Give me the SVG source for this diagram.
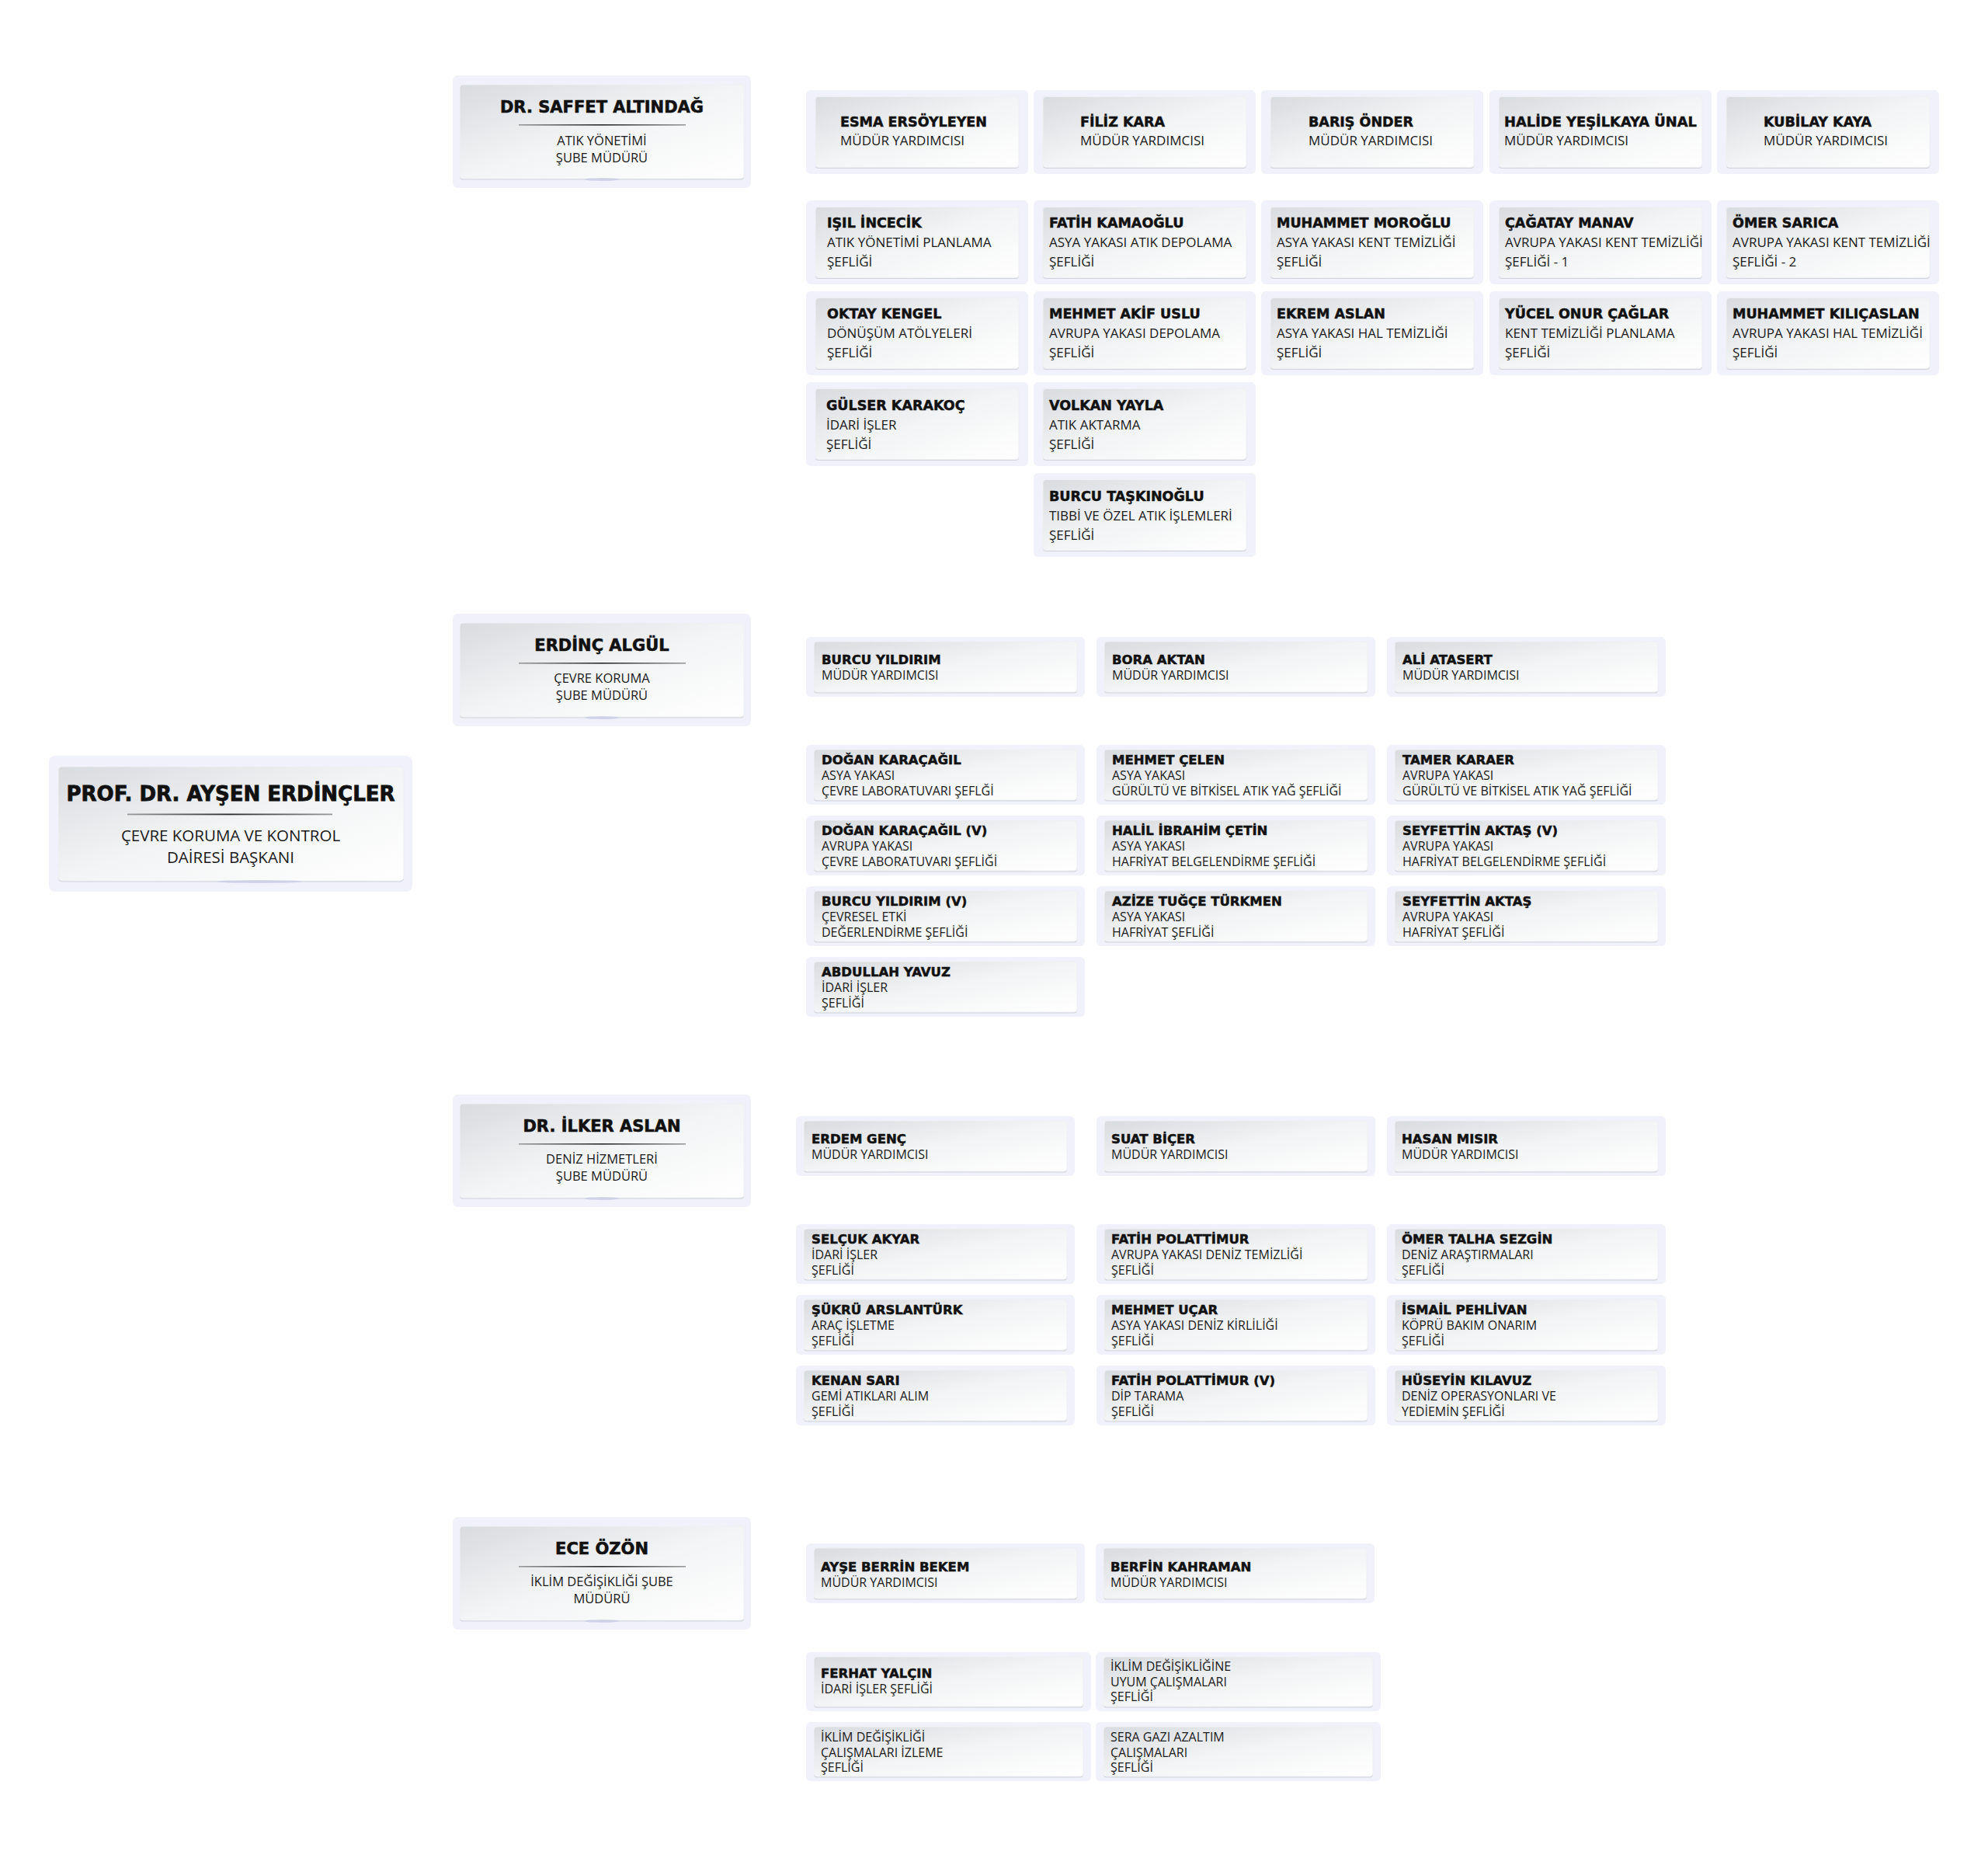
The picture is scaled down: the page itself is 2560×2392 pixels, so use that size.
<svg xmlns="http://www.w3.org/2000/svg" width="2560" height="2392" viewBox="0 0 2560 2392">
<defs>
<style>
.ob{fill:#f0f1fa}
.sh{fill:#d2d5dc}
.ic{fill:url(#g);stroke:#eef0f3;stroke-width:1}
.nR{font-family:"DejaVu Sans","Liberation Sans",sans-serif;font-weight:bold;font-size:26px;fill:#111;stroke:#111;stroke-width:0.8;text-anchor:middle}
.sR{font-family:"Open Sans","Liberation Sans",sans-serif;font-size:20.5px;fill:#1a1a1a;text-anchor:middle}
.nH{font-family:"DejaVu Sans","Liberation Sans",sans-serif;font-weight:bold;font-size:21px;fill:#111;stroke:#111;stroke-width:0.6;text-anchor:middle}
.sH{font-family:"Open Sans","Liberation Sans",sans-serif;font-size:16.5px;fill:#1a1a1a;text-anchor:middle}
.nA{font-family:"DejaVu Sans","Liberation Sans",sans-serif;font-weight:bold;font-size:17.5px;fill:#111;stroke:#111;stroke-width:0.5}
.sA{font-family:"Open Sans","Liberation Sans",sans-serif;font-size:17px;fill:#1a1a1a}
.nB{font-family:"DejaVu Sans","Liberation Sans",sans-serif;font-weight:bold;font-size:16.5px;fill:#111;stroke:#111;stroke-width:0.5}
.sB{font-family:"Open Sans","Liberation Sans",sans-serif;font-size:16px;fill:#1a1a1a}
.mk{stroke:#ffffff;stroke-width:2}
.gl{fill:#c8cbe6;opacity:.7}
</style>
<linearGradient id="g" x1="0" y1="0" x2="1" y2="1">
<stop offset="0" stop-color="#d8dbdf"/>
<stop offset="0.5" stop-color="#f3f4f5"/>
<stop offset="1" stop-color="#ffffff"/>
</linearGradient>
<linearGradient id="dv" x1="0" y1="0" x2="1" y2="0">
<stop offset="0" stop-color="#9a9a9a"/>
<stop offset="0.5" stop-color="#2a2a2a"/>
<stop offset="1" stop-color="#9a9a9a"/>
</linearGradient>
<g id="bgA"><rect class="ob" width="286" height="108" rx="6"/><rect class="sh" x="12" y="10" width="262" height="91" rx="4"/><rect class="ic" x="12" y="8.5" width="262" height="91" rx="4"/></g>
<g id="bgB"><rect class="ob" width="359" height="77" rx="6"/><rect class="sh" x="10" y="7.5" width="339" height="65" rx="4"/><rect class="ic" x="10" y="6" width="339" height="65" rx="4"/></g>
<g id="bgE"><rect class="ob" width="367" height="76" rx="6"/><rect class="sh" x="10" y="7.5" width="347" height="64" rx="4"/><rect class="ic" x="10" y="6" width="347" height="64" rx="4"/></g>
<g id="bgH"><rect class="ob" width="384" height="145" rx="7"/><rect class="sh" x="9" y="13.5" width="366" height="121" rx="4"/><rect class="ic" x="9" y="12" width="366" height="121" rx="4"/><ellipse class="gl" cx="192" cy="134" rx="22" ry="2"/><rect x="85" y="63" width="215" height="1.6" fill="url(#dv)"/></g>
</defs>
<rect width="2560" height="2392" fill="#ffffff"/>

<g id="connectors">
<line class="mk" x1="284" y1="1141" x2="284" y2="1148"/>
<line class="mk" x1="394" y1="1141" x2="394" y2="1148"/>
<line class="mk" x1="1204" y1="891" x2="1204" y2="897"/>
<line class="mk" x1="1591" y1="891" x2="1591" y2="897"/>
<line class="mk" x1="1205" y1="2058" x2="1205" y2="2064"/>
<line class="mk" x1="1590" y1="2058" x2="1590" y2="2064"/>
</g>

<g id="root">
<rect class="ob" x="63" y="973" width="468" height="175" rx="8"/>
<rect class="sh" x="75" y="988.5" width="445" height="147" rx="5"/>
<rect class="ic" x="75" y="987" width="445" height="147" rx="5"/>
<ellipse class="gl" cx="334" cy="1135" rx="55" ry="2"/>
<text class="nR" x="297" y="1031">PROF. DR. AYŞEN ERDİNÇLER</text>
<rect x="164" y="1047.5" width="264" height="1.8" fill="url(#dv)"/>
<text class="sR" x="297" y="1083">ÇEVRE KORUMA VE KONTROL</text>
<text class="sR" x="297" y="1111">DAİRESİ BAŞKANI</text>
</g>

<g id="h-saffet"><use href="#bgH" x="583" y="97"/><text class="nH" x="775" y="145">DR. SAFFET ALTINDAĞ</text><text class="sH" x="775" y="187">ATIK YÖNETİMİ</text><text class="sH" x="775" y="209">ŞUBE MÜDÜRÜ</text></g>
<g id="h-erdinc"><use href="#bgH" x="583" y="790"/><text class="nH" x="775" y="838">ERDİNÇ ALGÜL</text><text class="sH" x="775" y="879">ÇEVRE KORUMA</text><text class="sH" x="775" y="901">ŞUBE MÜDÜRÜ</text></g>
<g id="h-ilker"><use href="#bgH" x="583" y="1409"/><text class="nH" x="775" y="1457">DR. İLKER ASLAN</text><text class="sH" x="775" y="1498">DENİZ HİZMETLERİ</text><text class="sH" x="775" y="1520">ŞUBE MÜDÜRÜ</text></g>
<g id="h-ece"><use href="#bgH" x="583" y="1953"/><text class="nH" x="775" y="2001">ECE ÖZÖN</text><text class="sH" x="775" y="2042">İKLİM DEĞİŞİKLİĞİ ŞUBE</text><text class="sH" x="775" y="2064">MÜDÜRÜ</text></g>

<g id="s1-esma"><use href="#bgA" x="1038" y="116"/><text class="nA" x="1082" y="163">ESMA ERSÖYLEYEN</text><text class="sA" x="1082" y="187">MÜDÜR YARDIMCISI</text></g>
<g id="s1-filiz"><use href="#bgA" x="1331" y="116"/><text class="nA" x="1391" y="163">FİLİZ KARA</text><text class="sA" x="1391" y="187">MÜDÜR YARDIMCISI</text></g>
<g id="s1-baris"><use href="#bgA" x="1624" y="116"/><text class="nA" x="1685" y="163">BARIŞ ÖNDER</text><text class="sA" x="1685" y="187">MÜDÜR YARDIMCISI</text></g>
<g id="s1-halide"><use href="#bgA" x="1918" y="116"/><text class="nA" x="1937" y="163" textLength="248" lengthAdjust="spacingAndGlyphs">HALİDE YEŞİLKAYA ÜNAL</text><text class="sA" x="1937" y="187">MÜDÜR YARDIMCISI</text></g>
<g id="s1-kubilay"><use href="#bgA" x="2211" y="116"/><text class="nA" x="2271" y="163">KUBİLAY KAYA</text><text class="sA" x="2271" y="187">MÜDÜR YARDIMCISI</text></g>

<g id="s1-isil"><use href="#bgA" x="1038" y="258"/><text class="nA" x="1065" y="293">IŞIL İNCECİK</text><text class="sA" x="1065" y="318">ATIK YÖNETİMİ PLANLAMA</text><text class="sA" x="1065" y="343">ŞEFLİĞİ</text></g>
<g id="s1-fatih"><use href="#bgA" x="1331" y="258"/><text class="nA" x="1351" y="293">FATİH KAMAOĞLU</text><text class="sA" x="1351" y="318">ASYA YAKASI ATIK DEPOLAMA</text><text class="sA" x="1351" y="343">ŞEFLİĞİ</text></g>
<g id="s1-muhammet-m"><use href="#bgA" x="1624" y="258"/><text class="nA" x="1644" y="293">MUHAMMET MOROĞLU</text><text class="sA" x="1644" y="318">ASYA YAKASI KENT TEMİZLİĞİ</text><text class="sA" x="1644" y="343">ŞEFLİĞİ</text></g>
<g id="s1-cagatay"><use href="#bgA" x="1918" y="258"/><text class="nA" x="1938" y="293">ÇAĞATAY MANAV</text><text class="sA" x="1938" y="318">AVRUPA YAKASI KENT TEMİZLİĞİ</text><text class="sA" x="1938" y="343">ŞEFLİĞİ - 1</text></g>
<g id="s1-omer"><use href="#bgA" x="2211" y="258"/><text class="nA" x="2231" y="293">ÖMER SARICA</text><text class="sA" x="2231" y="318">AVRUPA YAKASI KENT TEMİZLİĞİ</text><text class="sA" x="2231" y="343">ŞEFLİĞİ - 2</text></g>

<g id="s1-oktay"><use href="#bgA" x="1038" y="375"/><text class="nA" x="1065" y="410">OKTAY KENGEL</text><text class="sA" x="1065" y="435">DÖNÜŞÜM ATÖLYELERİ</text><text class="sA" x="1065" y="460">ŞEFLİĞİ</text></g>
<g id="s1-mehmet-akif"><use href="#bgA" x="1331" y="375"/><text class="nA" x="1351" y="410">MEHMET AKİF USLU</text><text class="sA" x="1351" y="435">AVRUPA YAKASI DEPOLAMA</text><text class="sA" x="1351" y="460">ŞEFLİĞİ</text></g>
<g id="s1-ekrem"><use href="#bgA" x="1624" y="375"/><text class="nA" x="1644" y="410">EKREM ASLAN</text><text class="sA" x="1644" y="435">ASYA YAKASI HAL TEMİZLİĞİ</text><text class="sA" x="1644" y="460">ŞEFLİĞİ</text></g>
<g id="s1-yucel"><use href="#bgA" x="1918" y="375"/><text class="nA" x="1938" y="410">YÜCEL ONUR ÇAĞLAR</text><text class="sA" x="1938" y="435">KENT TEMİZLİĞİ PLANLAMA</text><text class="sA" x="1938" y="460">ŞEFLİĞİ</text></g>
<g id="s1-muhammet-k"><use href="#bgA" x="2211" y="375"/><text class="nA" x="2231" y="410">MUHAMMET KILIÇASLAN</text><text class="sA" x="2231" y="435">AVRUPA YAKASI HAL TEMİZLİĞİ</text><text class="sA" x="2231" y="460">ŞEFLİĞİ</text></g>

<g id="s1-gulser"><use href="#bgA" x="1038" y="492"/><text class="nA" x="1064" y="528">GÜLSER KARAKOÇ</text><text class="sA" x="1064" y="553">İDARİ İŞLER</text><text class="sA" x="1064" y="578">ŞEFLİĞİ</text></g>
<g id="s1-volkan"><use href="#bgA" x="1331" y="492"/><text class="nA" x="1351" y="528">VOLKAN YAYLA</text><text class="sA" x="1351" y="553">ATIK AKTARMA</text><text class="sA" x="1351" y="578">ŞEFLİĞİ</text></g>
<g id="s1-burcu-t"><use href="#bgA" x="1331" y="609"/><text class="nA" x="1351" y="645">BURCU TAŞKINOĞLU</text><text class="sA" x="1351" y="670">TIBBİ VE ÖZEL ATIK İŞLEMLERİ</text><text class="sA" x="1351" y="695">ŞEFLİĞİ</text></g>

<g id="s2-burcu"><use href="#bgB" x="1038" y="820"/><text class="nB" x="1058" y="855">BURCU YILDIRIM</text><text class="sB" x="1058" y="875">MÜDÜR YARDIMCISI</text></g>
<g id="s2-bora"><use href="#bgB" x="1412" y="820"/><text class="nB" x="1432" y="855">BORA AKTAN</text><text class="sB" x="1432" y="875">MÜDÜR YARDIMCISI</text></g>
<g id="s2-ali"><use href="#bgB" x="1786" y="820"/><text class="nB" x="1806" y="855">ALİ ATASERT</text><text class="sB" x="1806" y="875">MÜDÜR YARDIMCISI</text></g>

<g id="s2-dogan"><use href="#bgB" x="1038" y="959"/><text class="nB" x="1058" y="984">DOĞAN KARAÇAĞIL</text><text class="sB" x="1058" y="1004">ASYA YAKASI</text><text class="sB" x="1058" y="1024">ÇEVRE LABORATUVARI ŞEFLĞİ</text></g>
<g id="s2-mehmet-celen"><use href="#bgB" x="1412" y="959"/><text class="nB" x="1432" y="984">MEHMET ÇELEN</text><text class="sB" x="1432" y="1004">ASYA YAKASI</text><text class="sB" x="1432" y="1024">GÜRÜLTÜ VE BİTKİSEL ATIK YAĞ ŞEFLİĞİ</text></g>
<g id="s2-tamer"><use href="#bgB" x="1786" y="959"/><text class="nB" x="1806" y="984">TAMER KARAER</text><text class="sB" x="1806" y="1004">AVRUPA YAKASI</text><text class="sB" x="1806" y="1024">GÜRÜLTÜ VE BİTKİSEL ATIK YAĞ ŞEFLİĞİ</text></g>

<g id="s2-dogan-v"><use href="#bgB" x="1038" y="1050"/><text class="nB" x="1058" y="1075">DOĞAN KARAÇAĞIL (V)</text><text class="sB" x="1058" y="1095">AVRUPA YAKASI</text><text class="sB" x="1058" y="1115">ÇEVRE LABORATUVARI ŞEFLİĞİ</text></g>
<g id="s2-halil"><use href="#bgB" x="1412" y="1050"/><text class="nB" x="1432" y="1075">HALİL İBRAHİM ÇETİN</text><text class="sB" x="1432" y="1095">ASYA YAKASI</text><text class="sB" x="1432" y="1115">HAFRİYAT BELGELENDİRME ŞEFLİĞİ</text></g>
<g id="s2-seyfettin-v"><use href="#bgB" x="1786" y="1050"/><text class="nB" x="1806" y="1075">SEYFETTİN AKTAŞ (V)</text><text class="sB" x="1806" y="1095">AVRUPA YAKASI</text><text class="sB" x="1806" y="1115">HAFRİYAT BELGELENDİRME ŞEFLİĞİ</text></g>

<g id="s2-burcu-v"><use href="#bgB" x="1038" y="1141"/><text class="nB" x="1058" y="1166">BURCU YILDIRIM (V)</text><text class="sB" x="1058" y="1186">ÇEVRESEL ETKİ</text><text class="sB" x="1058" y="1206">DEĞERLENDİRME ŞEFLİĞİ</text></g>
<g id="s2-azize"><use href="#bgB" x="1412" y="1141"/><text class="nB" x="1432" y="1166">AZİZE TUĞÇE TÜRKMEN</text><text class="sB" x="1432" y="1186">ASYA YAKASI</text><text class="sB" x="1432" y="1206">HAFRİYAT ŞEFLİĞİ</text></g>
<g id="s2-seyfettin"><use href="#bgB" x="1786" y="1141"/><text class="nB" x="1806" y="1166">SEYFETTİN AKTAŞ</text><text class="sB" x="1806" y="1186">AVRUPA YAKASI</text><text class="sB" x="1806" y="1206">HAFRİYAT ŞEFLİĞİ</text></g>

<g id="s2-abdullah"><use href="#bgB" x="1038" y="1232"/><text class="nB" x="1058" y="1257">ABDULLAH YAVUZ</text><text class="sB" x="1058" y="1277">İDARİ İŞLER</text><text class="sB" x="1058" y="1297">ŞEFLİĞİ</text></g>

<g id="s3-erdem"><use href="#bgB" x="1025" y="1437"/><text class="nB" x="1045" y="1472">ERDEM GENÇ</text><text class="sB" x="1045" y="1492">MÜDÜR YARDIMCISI</text></g>
<g id="s3-suat"><use href="#bgB" x="1412" y="1437"/><text class="nB" x="1431" y="1472">SUAT BİÇER</text><text class="sB" x="1431" y="1492">MÜDÜR YARDIMCISI</text></g>
<g id="s3-hasan"><use href="#bgB" x="1786" y="1437"/><text class="nB" x="1805" y="1472">HASAN MISIR</text><text class="sB" x="1805" y="1492">MÜDÜR YARDIMCISI</text></g>

<g id="s3-selcuk"><use href="#bgB" x="1025" y="1576"/><text class="nB" x="1045" y="1601">SELÇUK AKYAR</text><text class="sB" x="1045" y="1621">İDARİ İŞLER</text><text class="sB" x="1045" y="1641">ŞEFLİĞİ</text></g>
<g id="s3-fatih"><use href="#bgB" x="1412" y="1576"/><text class="nB" x="1431" y="1601">FATİH POLATTİMUR</text><text class="sB" x="1431" y="1621">AVRUPA YAKASI DENİZ TEMİZLİĞİ</text><text class="sB" x="1431" y="1641">ŞEFLİĞİ</text></g>
<g id="s3-omer"><use href="#bgB" x="1786" y="1576"/><text class="nB" x="1805" y="1601">ÖMER TALHA SEZGİN</text><text class="sB" x="1805" y="1621">DENİZ ARAŞTIRMALARI</text><text class="sB" x="1805" y="1641">ŞEFLİĞİ</text></g>

<g id="s3-sukru"><use href="#bgB" x="1025" y="1667"/><text class="nB" x="1045" y="1692">ŞÜKRÜ ARSLANTÜRK</text><text class="sB" x="1045" y="1712">ARAÇ İŞLETME</text><text class="sB" x="1045" y="1732">ŞEFLİĞİ</text></g>
<g id="s3-mehmet"><use href="#bgB" x="1412" y="1667"/><text class="nB" x="1431" y="1692">MEHMET UÇAR</text><text class="sB" x="1431" y="1712">ASYA YAKASI DENİZ KİRLİLİĞİ</text><text class="sB" x="1431" y="1732">ŞEFLİĞİ</text></g>
<g id="s3-ismail"><use href="#bgB" x="1786" y="1667"/><text class="nB" x="1805" y="1692">İSMAİL PEHLİVAN</text><text class="sB" x="1805" y="1712">KÖPRÜ BAKIM ONARIM</text><text class="sB" x="1805" y="1732">ŞEFLİĞİ</text></g>

<g id="s3-kenan"><use href="#bgB" x="1025" y="1758"/><text class="nB" x="1045" y="1783">KENAN SARI</text><text class="sB" x="1045" y="1803">GEMİ ATIKLARI ALIM</text><text class="sB" x="1045" y="1823">ŞEFLİĞİ</text></g>
<g id="s3-fatih-v"><use href="#bgB" x="1412" y="1758"/><text class="nB" x="1431" y="1783">FATİH POLATTİMUR (V)</text><text class="sB" x="1431" y="1803">DİP TARAMA</text><text class="sB" x="1431" y="1823">ŞEFLİĞİ</text></g>
<g id="s3-huseyin"><use href="#bgB" x="1786" y="1758"/><text class="nB" x="1805" y="1783">HÜSEYİN KILAVUZ</text><text class="sB" x="1805" y="1803">DENİZ OPERASYONLARI VE</text><text class="sB" x="1805" y="1823">YEDİEMİN ŞEFLİĞİ</text></g>

<g id="s4-ayse"><use href="#bgB" x="1038" y="1987"/><text class="nB" x="1057" y="2023">AYŞE BERRİN BEKEM</text><text class="sB" x="1057" y="2043">MÜDÜR YARDIMCISI</text></g>
<g id="s4-berfin"><use href="#bgB" x="1411" y="1987"/><text class="nB" x="1430" y="2023">BERFİN KAHRAMAN</text><text class="sB" x="1430" y="2043">MÜDÜR YARDIMCISI</text></g>

<g id="s4-ferhat"><use href="#bgE" x="1038" y="2127"/><text class="nB" x="1057" y="2160">FERHAT YALÇIN</text><text class="sB" x="1057" y="2180">İDARİ İŞLER ŞEFLİĞİ</text></g>
<g id="s4-uyum"><use href="#bgE" x="1411" y="2127"/><text class="sB" x="1430" y="2151">İKLİM DEĞİŞİKLİĞİNE</text><text class="sB" x="1430" y="2171">UYUM ÇALIŞMALARI</text><text class="sB" x="1430" y="2190">ŞEFLİĞİ</text></g>
<g id="s4-izleme"><use href="#bgE" x="1038" y="2217"/><text class="sB" x="1057" y="2242">İKLİM DEĞİŞİKLİĞİ</text><text class="sB" x="1057" y="2262">ÇALIŞMALARI İZLEME</text><text class="sB" x="1057" y="2281">ŞEFLİĞİ</text></g>
<g id="s4-sera"><use href="#bgE" x="1411" y="2217"/><text class="sB" x="1430" y="2242">SERA GAZI AZALTIM</text><text class="sB" x="1430" y="2262">ÇALIŞMALARI</text><text class="sB" x="1430" y="2281">ŞEFLİĞİ</text></g>
</svg>
